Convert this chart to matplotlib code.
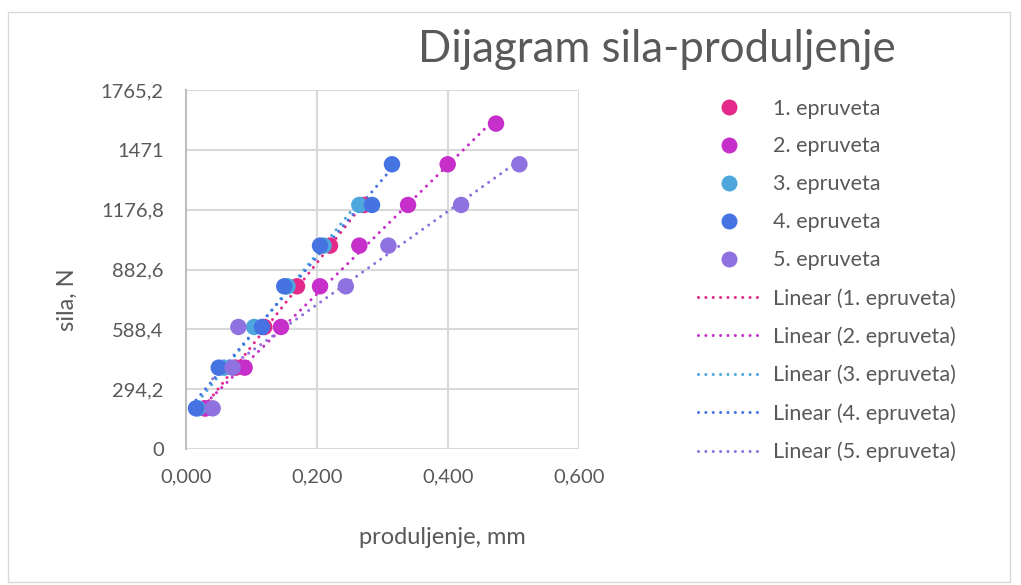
import numpy as np
import matplotlib
matplotlib.use("Agg")
import matplotlib.pyplot as plt
from matplotlib.lines import Line2D
from matplotlib.patches import Rectangle

plt.rcParams["font.family"] = ["Lato", "DejaVu Sans"]

# force levels (N) and elongation (mm) per specimen
levels = [200, 400, 600, 800, 1000, 1200, 1400, 1600]
names = ["1. epruveta", "2. epruveta", "3. epruveta", "4. epruveta", "5. epruveta"]
x1 = [0.028, 0.076, 0.1195, 0.1695, 0.2198, 0.272]
x2 = [0.0305, 0.0895, 0.145, 0.2046, 0.2646, 0.339, 0.3995, 0.4733]
x3 = [0.018, 0.058, 0.104, 0.155, 0.210, 0.2646]
x4 = [0.0153, 0.050, 0.116, 0.150, 0.2046, 0.284, 0.3145]
x5 = [0.0407, 0.071, 0.080, 0.244, 0.309, 0.420, 0.509]
colors = ["#E3298A", "#C62FC9", "#4EA7DC", "#4673E2", "#8F72DF"]

series = [x1, x2, x3, x4, x5]
txt = "#595959"

fig = plt.figure(figsize=(10.21, 5.85), dpi=100)
fig.patches.append(Rectangle((8 / 1021, 0.005), 1002 / 1021, 1 - 12 / 585 - 0.005,
                             transform=fig.transFigure, fill=False,
                             edgecolor="#D9D9D9", linewidth=1))
ax = fig.add_axes([186 / 1021, 1 - 449 / 585, (579 - 186) / 1021, (449 - 90) / 585])

# trendlines first so markers sit on top
for xs, c in zip(series, colors):
    ys = np.array(levels[:len(xs)])
    k, b = np.polyfit(xs, ys, 1)
    xx = np.array([min(xs), max(xs)])
    ax.plot(xx, k * xx + b, color=c, linewidth=2.2, linestyle=(0, (0.01, 2.4)),
            dash_capstyle="round", zorder=2)

for xs, c in zip(series, colors):
    ax.scatter(xs, levels[:len(xs)], s=140, color=c, edgecolors="none", zorder=3)

yt = [0, 294.2, 588.4, 882.6, 1176.8, 1471, 1765.2]
ax.set_ylim(0, 1765.2)
ax.set_yticks(yt)
ax.set_yticklabels(["0", "294,2", "588,4", "882,6", "1176,8", "1471", "1765,2"])
ax.set_xlim(0, 0.6)
ax.set_xticks([0, 0.2, 0.4, 0.6])
ax.set_xticklabels(["0,000", "0,200", "0,400", "0,600"])
ax.tick_params(length=0, labelsize=14.5, colors=txt)
ax.tick_params(axis="y", pad=16)
ax.tick_params(axis="x", pad=14)
ax.grid(True, color="#D9D9D9", linewidth=1.5)
ax.set_axisbelow(True)
for s in ["top", "right", "bottom"]:
    ax.spines[s].set_visible(False)
ax.spines["left"].set_color("#BFBFBF")
ax.spines["left"].set_linewidth(1.5)

ax.set_xlabel("produljenje, mm", fontsize=17, color=txt, va="center", ha="center")
ax.xaxis.set_label_coords((442 - 186) / 393, (449 - 537) / 359)
ax.set_ylabel("sila, N", fontsize=17, color=txt, va="center", ha="center")
ax.yaxis.set_label_coords((67 - 186) / 393, (449 - 300) / 359)
fig.text(657 / 1021, 1 - 50 / 585, "Dijagram sila-produljenje", fontsize=31.5,
         color=txt, ha="center", va="center")

handles = []
for c in colors:
    handles.append(Line2D([], [], marker="o", linestyle="none", markersize=11.5,
                          markerfacecolor=c, markeredgecolor="none"))
for c in colors:
    handles.append(Line2D([], [], color=c, linewidth=2.2, linestyle=(0, (0.01, 2.4)),
                          dash_capstyle="round"))
labels = names + ["Linear (" + n + ")" for n in names]
leg = fig.legend(handles, labels, loc="upper left", bbox_to_anchor=(689 / 1021, 1 - 90 / 585),
                 frameon=False, fontsize=15.5, labelspacing=0.83, handlelength=2.9,
                 handletextpad=0.6, borderaxespad=0)
for t in leg.get_texts():
    t.set_color(txt)

fig.savefig("out.png", dpi=100)
